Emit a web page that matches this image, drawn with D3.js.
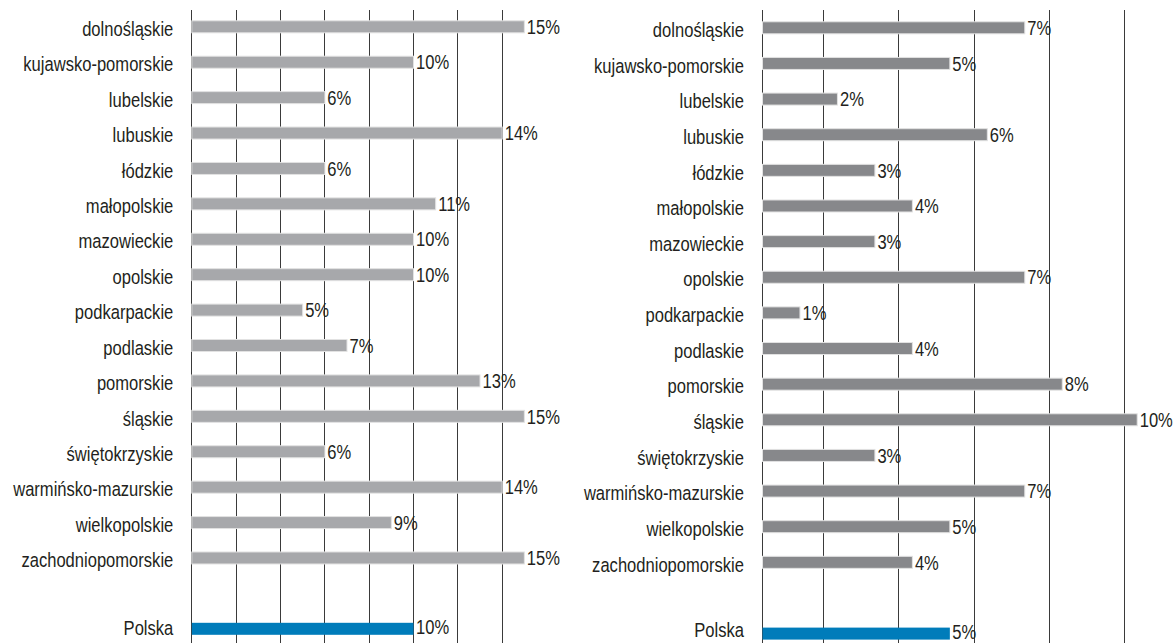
<!DOCTYPE html>
<html lang="pl">
<head>
<meta charset="UTF-8">
<title>Województwa</title>
<style>
    body{ margin:0; background:#fff; }
    svg{ display:block; }
    text{ font-family:"Liberation Sans",Arial,sans-serif; font-size:20.5px; fill:#231f20; }
</style>
<script src="https://cdn.jsdelivr.net/npm/d3@7"></script>
</head>
<body>
<script>
    const width = 1176
    const height = 643

    // categories (blank row before Polska)
    const regions = ["dolnośląskie","kujawsko-pomorskie","lubelskie","lubuskie","łódzkie","małopolskie",
        "mazowieckie","opolskie","podkarpackie","podlaskie","pomorskie","śląskie","świętokrzyskie",
        "warmińsko-mazurskie","wielkopolskie","zachodniopomorskie"]
    const totalLabel = "Polska"

    // left panel values (%)
    const leftValues = [15,10,6,14,6,11,10,10,5,7,13,15,6,14,9,15]
    const leftTotal = 10
    const leftGrid = [2,4,6,8,10,12,14]

    // right panel values (%)
    const rightValues = [7,5,2,6,3,4,3,7,1,4,8,10,3,7,5,4]
    const rightTotal = 5
    const rightGrid = [1.63,3.64,5.65,7.66,9.66]

    const rows = regions.concat([" ", totalLabel])

    let svg = d3.select("body").append("svg")
        .attr("width", width).attr("height", height)
        .attr("viewBox", `0 0 ${width} ${height}`)

    // the original uses a condensed face; squeeze the installed one to the same width
    const probe = svg.append("text").text("kujawsko-pomorskie")
    const squeeze = 150 / probe.node().getComputedTextLength()
    probe.remove()

    function condense(sel){
        sel.each(function(){
            const w = this.getComputedTextLength()
            d3.select(this).attr("textLength", w*squeeze).attr("lengthAdjust","spacingAndGlyphs")
        })
    }

    function panel(opt){
        const x = d3.scaleLinear().domain(opt.domain).range(opt.xRange)
        const y = d3.scalePoint().domain(rows).range(opt.yRange)
        const g = svg.append("g")

        const data = regions.map((r,i)=>({name:r, value:opt.values[i], total:false}))
        data.push({name:totalLabel, value:opt.total, total:true})

        // grid
        g.selectAll(".grid").data([0].concat(opt.grid)).enter()
            .append("line")
            .attr("x1", d=>Math.round(x(d))+0.5).attr("x2", d=>Math.round(x(d))+0.5)
            .attr("y1", 10).attr("y2", height)
            .attr("stroke", "#3a3a3a").attr("stroke-width", 1)

        // bars
        g.selectAll(".bar").data(data).enter()
            .append("rect")
            .attr("x", x(0)+0.5)
            .attr("y", d=>y(d.name)-opt.barH/2)
            .attr("width", d=>x(d.value)-x(0))
            .attr("height", opt.barH)
            .attr("fill", d=>d.total ? "#007cba" : opt.color)
            .attr("stroke", d=>d.total ? "none" : "#e2e2e2")
            .attr("stroke-width", 1)

        // category labels
        g.selectAll(".cat").data(data).enter()
            .append("text")
            .attr("x", x(0)-18)
            .attr("y", d=>y(d.name)+(d.total ? opt.totalShift : 2))
            .attr("dy", "0.35em")
            .attr("text-anchor", "end")
            .text(d=>d.name)
            .call(condense)

        // value labels
        g.selectAll(".val").data(data).enter()
            .append("text")
            .attr("x", d=>x(d.value)+3)
            .attr("y", d=>y(d.name)-(d.total ? 1.5 : 0))
            .attr("dy", "0.35em")
            .text(d=>d.value+"%")
            .call(condense)
    }

    panel({values:leftValues, total:leftTotal, grid:leftGrid, domain:[0,16],
        xRange:[191.3, 191.3+16*22.17], yRange:[26.8, 628.8], barH:12, color:"#a7a8ab", totalShift:-1})
    panel({values:rightValues, total:rightTotal, grid:rightGrid, domain:[0,10],
        xRange:[762, 1136.7], yRange:[27.8, 633.6], barH:12, color:"#87888b", totalShift:-4})
</script>
</body>
</html>
